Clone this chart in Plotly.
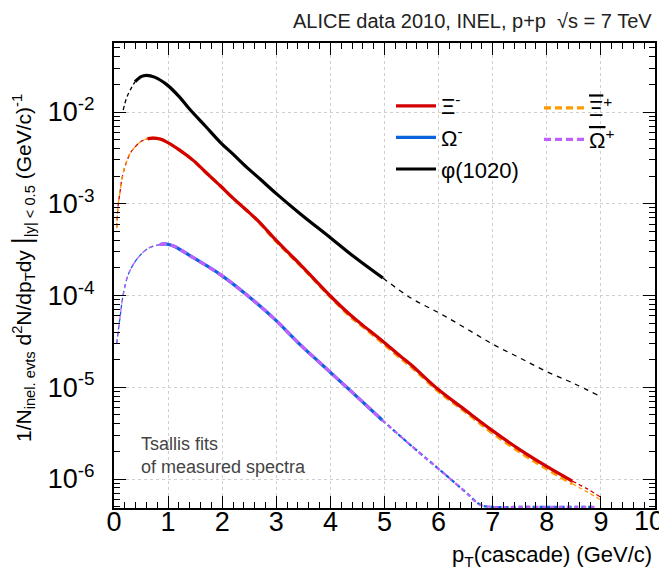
import numpy as np
import plotly.graph_objects as go

# ---------------- data ----------------
# phi(1020)
phi_pt = [0.17, 0.23, 0.30, 0.39, 0.50, 0.60, 0.75, 0.97, 1.2, 1.4, 1.7, 1.96, 2.2, 2.45,
          2.7, 3.0, 3.44, 4.0, 4.42, 4.97, 5.5, 6.0, 6.5, 7.0, 7.5, 8.0, 8.5, 8.96]
phi_yield = [1.05e-2, 1.41e-2, 1.74e-2, 2.14e-2, 2.43e-2, 2.51e-2, 2.40e-2, 2.00e-2, 1.48e-2,
             1.07e-2, 6.9e-3, 4.7e-3, 3.47e-3, 2.51e-3, 1.86e-3, 1.29e-3, 7.8e-4, 4.27e-4,
             2.69e-4, 1.55e-4, 9.3e-5, 6.5e-5, 4.4e-5, 2.95e-5, 2.09e-5, 1.48e-5, 1.10e-5, 8.1e-6]
phi_range = (0.39, 4.97)

# Xi- and anti-Xi+
xi_pt = [0.05, 0.08, 0.11, 0.14, 0.20, 0.30, 0.39, 0.50, 0.62, 0.73, 0.85, 0.97, 1.2, 1.47,
         1.7, 1.96, 2.2, 2.45, 2.7, 2.95, 3.2, 3.44, 3.7, 3.99, 4.36, 4.55, 4.99, 5.29, 5.5,
         5.99, 6.5, 6.99, 7.5, 7.99, 8.47, 8.75, 9.0]
xim_yield = [5.5e-4, 1.0e-3, 1.32e-3, 1.78e-3, 2.51e-3, 3.55e-3, 4.17e-3, 4.79e-3, 5.13e-3,
             5.2e-3, 5.07e-3, 4.73e-3, 3.89e-3, 2.95e-3, 2.19e-3, 1.58e-3, 1.15e-3, 8.5e-4,
             6.2e-4, 4.27e-4, 3.02e-4, 2.19e-4, 1.51e-4, 1.0e-4, 6.2e-5, 5.0e-5, 3.09e-5,
             2.19e-5, 1.74e-5, 9.5e-6, 5.6e-6, 3.39e-6, 2.09e-6, 1.38e-6, 9.5e-7, 7.8e-7, 6.3e-7]
xip_yield = [5.5e-4, 1.0e-3, 1.32e-3, 1.78e-3, 2.51e-3, 3.55e-3, 4.17e-3, 4.79e-3, 5.13e-3,
             5.2e-3, 5.07e-3, 4.73e-3, 3.89e-3, 2.95e-3, 2.19e-3, 1.58e-3, 1.15e-3, 8.5e-4,
             6.1e-4, 4.17e-4, 2.95e-4, 2.14e-4, 1.48e-4, 9.8e-5, 5.96e-5, 4.84e-5, 2.95e-5,
             2.09e-5, 1.66e-5, 9.1e-6, 5.37e-6, 3.2e-6, 1.97e-6, 1.30e-6, 8.9e-7, 7.2e-7, 5.9e-7]
xi_range = (0.62, 8.47)

# Omega- and anti-Omega+
om_pt = [0.05, 0.11, 0.17, 0.265, 0.42, 0.63, 0.85, 0.94, 1.1, 1.466, 1.96, 2.45, 2.945,
         3.44, 3.78, 4.36, 4.96, 5.5, 6.0, 6.5, 6.78, 7.0, 7.5, 8.0, 8.5, 8.9]
omm_yield = [3.0e-5, 5.7e-5, 1.02e-4, 1.70e-4, 2.47e-4, 3.26e-4, 3.59e-4, 3.66e-4, 3.47e-4,
             2.58e-4, 1.70e-4, 1.02e-4, 5.7e-5, 2.92e-5, 1.91e-5, 9.3e-6, 4.37e-6, 2.29e-6,
             1.29e-6, 7.2e-7, 5.2e-7, 4.1e-7, 2.3e-7, 1.4e-7, 8.1e-8, 5.4e-8]
omp_yield = list(omm_yield)
om_range = (0.85, 4.96)

x_ticks = list(range(0, 11))
x_ticktext = ["0", "1", "2", "3", "4", "5", "6", "7", "8", "9", "10"]
y_decades = [1e-6, 1e-5, 1e-4, 1e-3, 1e-2]
y_ticktext = ["10<sup>-6</sup>", "10<sup>-5</sup>", "10<sup>-4</sup>", "10<sup>-3</sup>", "10<sup>-2</sup>"]

# ---------------- styling ----------------
YMIN, YMAX = -6.316, -1.248
FONT = "Liberation Sans, Arial, Helvetica, sans-serif"
RED, ORANGE, BLUE, VIOLET = "#d20000", "#ff9a00", "#0a64dc", "#c060ff"

def split(x, y, rng):
    x = np.asarray(x, float)
    y = np.asarray(y, float)
    y = np.maximum(y, 10 ** (YMIN + 0.012))  # function below frame drawn at frame bottom
    lo, hi = rng
    m_lo = x <= lo + 1e-9
    m_in = (x >= lo - 1e-9) & (x <= hi + 1e-9)
    m_hi = x >= hi - 1e-9
    return (x[m_lo], y[m_lo]), (x[m_in], y[m_in]), (x[m_hi], y[m_hi])

fig = go.Figure()

def extrap(seg, color, width=1.3, dash="4px,3px"):
    fig.add_trace(go.Scatter(x=seg[0], y=seg[1], mode="lines", showlegend=False,
                             hoverinfo="skip",
                             line=dict(color=color, width=width, dash=dash, shape="spline")))

def main(seg, color, name, legend, rank, dash="solid", width=3.2):
    fig.add_trace(go.Scatter(x=seg[0], y=seg[1], mode="lines", name=name,
                             legend=legend, legendrank=rank,
                             line=dict(color=color, width=width, dash=dash, shape="spline")))

phi_lo, phi_in, phi_hi = split(phi_pt, phi_yield, phi_range)
xim_lo, xim_in, xim_hi = split(xi_pt, xim_yield, xi_range)
xip_lo, xip_in, xip_hi = split(xi_pt, xip_yield, xi_range)
omm_lo, omm_in, omm_hi = split(om_pt, omm_yield, om_range)
omp_lo, omp_in, omp_hi = split(om_pt, omp_yield, om_range)

# extrapolations (thin dashed)
extrap(phi_lo, "black"); extrap(phi_hi, "black", dash="5px,5px")
extrap(xim_lo, RED); extrap(xim_hi, RED)
extrap(xip_lo, ORANGE, dash="4px,4px"); extrap(xip_hi, ORANGE)
extrap(omm_lo, BLUE); extrap(omm_hi, BLUE, width=2.2)
extrap(omp_lo, VIOLET, dash="4px,4px"); extrap(omp_hi, VIOLET, width=2.2, dash="4px,4px")

# measured ranges
main(phi_in, "black", "\u03c6(1020)", "legend", 3)
main(xip_in, ORANGE, "<span style='text-decoration:overline'>\u039e</span><sup>+</sup>",
     "legend2", 1, dash="7px,4px")
main(xim_in, RED, "\u039e<sup>-</sup>", "legend", 1)
main(omm_in, BLUE, "\u03a9<sup>-</sup>", "legend", 2)
main(omp_in, VIOLET, "<span style='text-decoration:overline'>\u03a9</span><sup>+</sup>",
     "legend2", 2, dash="7px,4px")

# page geometry (the browser page adds an 8 px body margin)
PAGE_OFF = 8
L_PAGE, T_PAGE, PW, PH = 114, 43, 541, 465
W, H = 667 - PAGE_OFF, 577 - PAGE_OFF
L, T = L_PAGE - PAGE_OFF, T_PAGE - PAGE_OFF
R, B = W - L - PW, H - T - PH

def px_x(p):
    return (p - L_PAGE) / PW

def px_y(p):
    return (T_PAGE + PH - p) / PH

fig.add_shape(type="rect", xref="paper", yref="paper",
              x0=px_x(383), x1=px_x(625), y0=px_y(173), y1=px_y(86),
              fillcolor="white", line=dict(width=0), layer="between")

legend_common = dict(bgcolor="rgba(0,0,0,0)", borderwidth=0,
                     font=dict(family=FONT, size=22, color="black"),
                     xanchor="left", yanchor="top", itemwidth=40, tracegroupgap=0)
fig.update_layout(
    legend=dict(x=px_x(391), y=px_y(85), **legend_common),
    legend2=dict(x=px_x(539), y=px_y(87), **legend_common),
)

TICKFONT = dict(family=FONT, size=27, color="black")
axis_common = dict(showline=True, linecolor="black", linewidth=2, mirror="ticks",
                   ticks="inside", tickcolor="black", tickwidth=1, automargin=False,
                   showgrid=True, gridcolor="#cfcfcf", griddash="dot", gridwidth=1,
                   zeroline=False, tickfont=TICKFONT)

minor_y = [k * 10.0 ** e for e in range(-7, -1) for k in range(2, 10)]
# last x label is placed separately so it stays inside the page (as in the original)
fig.update_xaxes(range=[0, 10], tickmode="array", tickvals=x_ticks,
                 ticktext=x_ticktext[:-1] + [""], ticklen=12, ticklabelstandoff=-11,
                 minor=dict(tickmode="linear", dtick=0.2, tick0=0, ticks="inside", ticklen=6,
                            tickcolor="black", showgrid=False),
                 **axis_common)
fig.update_yaxes(type="log", range=[YMIN, YMAX], tickmode="array",
                 tickvals=y_decades, ticktext=y_ticktext, ticklen=12,
                 ticklabelstandoff=12,
                 minor=dict(tickmode="array", tickvals=minor_y, ticks="inside", ticklen=6,
                            tickcolor="black", showgrid=False),
                 **axis_common)

fig.add_annotation(xref="paper", yref="paper", x=px_x(665), y=px_y(521),
                   xanchor="right", yanchor="middle", showarrow=False, borderpad=0,
                   text=x_ticktext[-1], font=TICKFONT)

ann_font = dict(family=FONT, color="#222222")
fig.add_annotation(xref="paper", yref="paper", x=px_x(653), y=px_y(21),
                   xanchor="right", yanchor="middle", showarrow=False, borderpad=0,
                   text="ALICE data 2010, INEL, p+p  \u221as = 7 TeV",
                   font=dict(size=20, **ann_font))
fig.add_annotation(xref="paper", yref="paper", x=px_x(653), y=px_y(556),
                   xanchor="right", yanchor="middle", showarrow=False, borderpad=0,
                   text="p<sub>T</sub>(cascade) (GeV/c)",
                   font=dict(size=22, family=FONT, color="black"))
fig.add_annotation(xref="paper", yref="paper", x=px_x(22), y=px_y(268),
                   xanchor="center", yanchor="middle", showarrow=False, textangle=-90,
                   borderpad=0,
                   text="1/N<sub>inel. evts</sub> d<sup>2</sup>N/dp<sub>T</sub>dy "
                        "<span style='font-size:27px'>|</span><sub>|y| < 0.5</sub> (GeV/c)<sup>-1</sup>",
                   font=dict(size=21, family=FONT, color="black"))
fig.add_annotation(xref="paper", yref="paper", x=px_x(139), y=px_y(455),
                   xanchor="left", yanchor="middle", showarrow=False, align="left",
                   text="Tsallis fits<br>of measured spectra",
                   font=dict(size=18, family=FONT, color="#444444"))

fig.update_layout(width=W, height=H, margin=dict(l=L, r=R, t=T, b=B),
                  paper_bgcolor="white", plot_bgcolor="white",
                  font=dict(family=FONT))

fig.write_html("out.html")
